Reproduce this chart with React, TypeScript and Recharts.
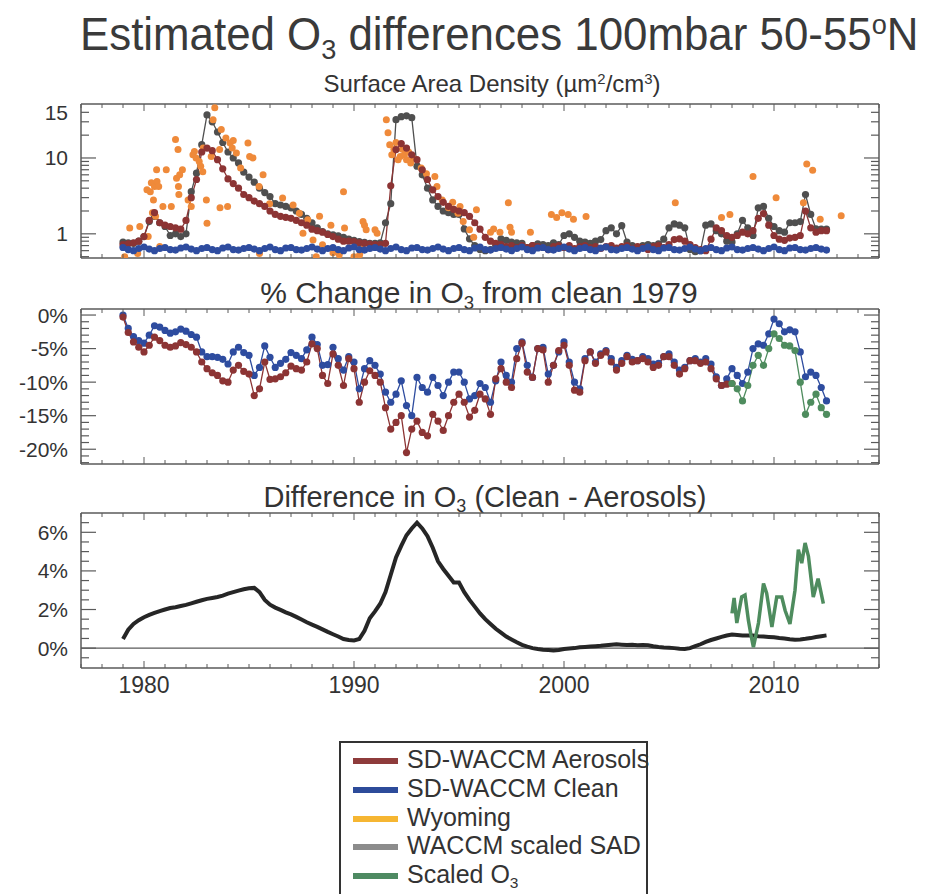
import React from 'react'
import { ComposedChart, Line, Scatter, XAxis, YAxis, ReferenceLine } from 'recharts'

const AXIS = '#5a5a5a'
const TEXT = '#333'
const FONT = '"Liberation Sans", Arial, Helvetica, sans-serif'

const RED = '#8c3434'
const BLUE = '#2e4c9f'
const ORANGE = '#ef8a3a'
const GREY = '#4f4f4f'
const GREEN = '#4e8c5e'
const BLACK = '#262626'

// quarterly model output, first sample at 1979.0
const START_YEAR = 1979
const STEP = 0.25

// Surface area density (um2/cm3)
const sadAerosol = [
  0.72, 0.74, 0.76, 0.8, 0.92, 1.5, 1.9, 1.4, 1.3, 1.25, 1.2, 1.15, 1.5, 3.0, 5.2, 12.0,
  13.5, 12.5, 9.5, 7.2, 5.3, 4.6, 4.0, 3.3, 3.0, 2.7, 2.5, 2.3, 2.0, 1.8, 1.7, 1.65,
  1.6, 1.5, 1.4, 1.3, 1.15, 1.1, 1.05, 0.98, 0.92, 0.85, 0.8, 0.8, 0.79, 0.76, 0.75, 0.73,
  0.72, 0.72, 0.75, 4.3, 12.9, 15.5, 13.5, 11, 9.5, 7.0, 5.2, 3.8, 3.1, 2.6, 2.3, 2.1,
  2.0, 1.9, 1.7, 1.4, 1.15, 0.9, 0.8, 0.75, 0.72, 0.68, 0.7, 0.66, 0.7, 0.66, 0.7, 0.68,
  0.66, 0.62, 0.68, 0.7, 0.66, 0.7, 0.64, 0.68, 0.7, 0.66, 0.68, 0.64, 0.68, 0.7, 0.65, 0.68,
  0.7, 0.64, 0.68, 0.66, 0.62, 0.68, 0.7, 0.66, 0.72, 0.84, 0.86, 0.8, 0.72, 0.66, 0.62, 0.6,
  0.85, 1.2, 1.1, 0.95, 0.9, 0.95, 1.05, 1.0, 1.1, 1.6, 1.85, 1.3, 0.95, 0.85, 0.82, 0.88,
  0.9, 0.95, 2.0, 1.2, 1.05, 1.1, 1.1,
]
const sadClean = [
  0.66, 0.62, 0.6, 0.64, 0.67, 0.63, 0.6, 0.64, 0.66, 0.62, 0.61, 0.65, 0.67, 0.63, 0.6, 0.64,
  0.66, 0.62, 0.6, 0.65, 0.67, 0.62, 0.61, 0.64, 0.66, 0.63, 0.6, 0.64, 0.67, 0.62, 0.6, 0.65,
  0.66, 0.62, 0.61, 0.64, 0.67, 0.63, 0.6, 0.64, 0.66, 0.62, 0.6, 0.65, 0.67, 0.62, 0.61, 0.64,
  0.66, 0.63, 0.6, 0.64, 0.67, 0.62, 0.6, 0.65, 0.66, 0.62, 0.61, 0.64, 0.67, 0.63, 0.6, 0.64,
  0.66, 0.62, 0.6, 0.65, 0.67, 0.62, 0.61, 0.64, 0.66, 0.63, 0.6, 0.64, 0.67, 0.62, 0.6, 0.65,
  0.66, 0.62, 0.61, 0.64, 0.67, 0.63, 0.6, 0.64, 0.66, 0.62, 0.6, 0.65, 0.67, 0.62, 0.61, 0.64,
  0.66, 0.63, 0.6, 0.64, 0.67, 0.62, 0.6, 0.65, 0.66, 0.62, 0.61, 0.64, 0.67, 0.63, 0.6, 0.64,
  0.66, 0.62, 0.6, 0.65, 0.67, 0.62, 0.61, 0.64, 0.66, 0.63, 0.6, 0.64, 0.67, 0.62, 0.6, 0.65,
  0.66, 0.62, 0.61, 0.64, 0.66, 0.63, 0.61,
]
const sadScaled = [
  0.78, 0.76, 0.75, 0.8, 0.92, 1.45, 1.7, 1.4, 1.25, 0.95, 1.0, 0.92, 1.0, 3.6, 6.3, 15,
  37, 30, 22, 16, 12, 10, 8.6, 6.5, 5.6, 4.8, 4.0, 3.5, 3.1, 2.5, 2.4, 2.3,
  2.2, 2.0, 1.8, 1.6, 1.4, 1.2, 1.07, 1.0, 0.97, 0.94, 0.9, 0.85, 0.82, 0.79, 0.77, 0.75,
  0.75, 0.76, 1.4, 2.5, 32, 35, 36, 34, 7.8, 6.0, 4.0, 2.8, 2.3, 2.0, 1.9, 1.8,
  1.8, 1.16, 0.86, 0.7, 0.62, 0.6, 0.62, 0.7, 0.86, 0.82, 0.78, 0.76, 0.75, 0.66, 0.7, 0.74,
  0.72, 0.7, 0.76, 0.72, 0.95, 1.0, 0.9, 0.8, 0.78, 0.75, 0.8, 0.84, 1.1, 1.2, 1.0, 1.28,
  0.78, 0.7, 0.66, 0.7, 0.72, 0.7, 0.74, 0.85, 1.2, 1.35, 1.3, 1.2, 0.62, 0.58, 0.6, 1.3,
  1.35, 1.1, 1.0, 0.8, 0.78, 1.0, 1.5, 1.2, 0.95, 2.2, 2.3, 1.6, 1.25, 1.1, 1.05, 1.4,
  1.4, 1.45, 3.3, 1.8, 1.16, 1.15, 1.15,
]

// Wyoming balloon soundings (irregular dates)
const wyomingYears = [
  1979.08, 1979.32, 1979.7, 1979.8, 1980.14, 1980.2, 1980.3, 1980.35, 1980.4, 1980.45, 1980.5, 1980.55,
  1980.6, 1980.62, 1980.7, 1980.75, 1980.9, 1981.06, 1981.3, 1981.5, 1981.55, 1981.62, 1981.64, 1981.66,
  1981.7, 1981.83, 1982.1, 1982.25, 1982.33, 1982.4, 1982.48, 1982.63, 1982.7, 1982.8, 1982.82, 1982.97,
  1983.0, 1983.2, 1983.29, 1983.37, 1983.6, 1983.62, 1983.68, 1983.9, 1983.98, 1984.1, 1984.2, 1984.25,
  1984.4, 1984.6, 1984.95, 1985.03, 1985.19, 1985.48, 1985.5, 1985.67, 1985.98, 1986.6, 1987.1, 1987.4,
  1987.57, 1987.8, 1988.05, 1988.2, 1988.36, 1988.5, 1988.9, 1989.0, 1989.3, 1989.5, 1989.55, 1990.0,
  1990.27, 1990.3, 1990.43, 1990.5, 1990.58, 1991.0, 1991.1, 1991.54, 1991.62, 1991.7, 1991.8, 1991.9,
  1992.0, 1992.1, 1992.2, 1992.3, 1992.4, 1992.5, 1992.6, 1992.7, 1992.8, 1993.2, 1993.45, 1993.85,
  1993.95, 1994.2, 1994.5, 1994.7, 1994.95, 1995.05, 1995.2, 1995.5, 1995.7, 1995.83, 1996.5, 1996.65,
  1996.95, 1997.35, 1997.43, 1997.5, 1998.4, 1999.4, 1999.5, 1999.65, 1999.9, 2000.2, 2000.45, 2001.05,
  2005.3, 2007.5, 2007.9, 2009.0, 2010.1, 2011.4, 2011.56, 2011.84, 2012.2, 2013.2,
]
const wyomingSad = [
  0.5, 1.19, 0.55, 1.25, 3.8, 0.92, 3.6, 4.7, 1.9, 2.8, 4.2, 1.7,
  7.0, 4.9, 4.2, 0.68, 2.3, 7.0, 2.3, 17.5, 5.4, 12.9, 4.2, 3.3,
  6.0, 7.0, 2.8, 2.3, 11, 12.2, 10, 9, 7.8, 6.6, 13.5, 2.8,
  1.38, 10.5, 32, 46, 12.9, 2.2, 23.7, 18.4, 2.3, 15.8, 13.5, 17,
  11.6, 7.4, 15.8, 10.5, 10, 4.2, 0.55, 6.0, 2.5, 2.96, 2.4, 1.87,
  1.02, 1.53, 0.83, 0.5, 1.7, 0.72, 1.3, 0.56, 0.53, 3.6, 1.19, 0.5,
  0.53, 0.68, 1.45, 1.3, 1.13, 1.13, 1.02, 32, 21.5, 15, 11, 13,
  16, 9.5, 10.5, 13, 11, 9.5, 12, 8.6, 10, 7.4, 6.2, 5.7,
  4.2, 2.8, 2.2, 2.6, 1.87, 2.3, 1.45, 1.13, 0.9, 2.07, 1.05, 1.16,
  1.05, 2.57, 1.22, 1.05, 1.05, 1.8, 0.64, 1.64, 1.9, 1.8, 1.56, 1.69,
  2.57, 1.64, 1.8, 5.7, 2.98, 2.57, 8.3, 6.9, 1.56, 1.73,
]

// % change in O3 from clean 1979
const pctClean = [
  0, -2.0, -3.2, -3.8, -4.2, -3.0, -1.6, -1.8, -2.3, -2.7, -2.5, -2.1, -2.4, -2.9, -3.3, -5.5,
  -6.2, -6.2, -6.3, -6.6, -7.3, -5.5, -4.8, -5.6, -6.0, -9.0, -7.8, -4.6, -6.3, -7.8, -7.2, -6.6,
  -5.6, -6.0, -6.5, -5.2, -3.3, -4.4, -7.5, -7.4, -4.8, -6.5, -8.2, -6.2, -7.0, -11.0, -8.0, -6.8,
  -7.5, -8.8, -11.5, -13.0, -11.8, -9.8, -13.5, -15.0, -9.3, -10.8, -11.5, -9.3, -10.5, -12.0, -10.0, -8.5,
  -8.5, -10.0, -12.5, -12.0, -10.2, -10.8, -13.0, -9.8, -7.0, -9.0, -10.0, -5.0, -4.0, -7.5, -9.3, -5.0,
  -4.8, -8.8, -7.5, -5.5, -4.0, -7.0, -10.0, -11.0, -6.5, -5.5, -7.0, -5.8, -5.3, -6.5, -7.8, -6.8,
  -6.0, -6.6, -6.8, -6.2, -6.5, -7.3, -7.2, -6.2, -5.8, -7.0, -8.2, -7.8, -6.8, -6.5, -7.0, -6.5,
  -7.3, -9.2, -10.5, -9.5, -8.0, -9.0, -10.2, -8.5, -5.0, -4.3, -4.5, -2.8, -0.6, -1.3, -2.5, -2.2,
  -2.5, -5.5, -9.2, -8.5, -9.0, -10.8, -12.8,
]
const pctAerosol = [
  -0.3, -2.6, -4.0, -4.8, -5.5, -4.5, -3.3, -3.8, -4.5, -4.8, -4.6, -4.1, -4.4, -4.8, -5.5, -7.0,
  -8.0, -8.6, -9.0, -9.8, -10.0, -8.2, -7.5, -8.4, -8.8, -12.0, -11.0, -7.0, -9.6, -9.5, -9.2, -8.6,
  -7.6, -8.0, -8.2, -7.0, -4.3, -5.0, -9.0, -10.2, -5.8, -7.5, -10.5, -6.5, -8.0, -13.0, -10.0, -8.3,
  -9.0, -10.0, -13.8, -17.0, -16.0, -15.0, -20.5, -17.0, -15.8, -17.5, -18.0, -14.8, -15.8, -17.2, -15.0, -13.0,
  -11.8, -13.0, -15.2, -14.2, -11.8, -12.5, -14.8, -9.5, -8.0, -10.0, -10.8, -6.5, -4.2, -8.5, -9.3, -5.0,
  -5.2, -10.0, -7.5, -5.3, -4.5, -7.5, -11.2, -11.5, -6.8, -5.5, -7.2, -6.0, -5.5, -7.0, -8.2, -7.2,
  -6.2, -7.0, -6.8, -6.5, -7.0, -7.8, -7.5, -6.2, -6.2, -7.5, -8.8, -8.0, -6.8, -6.8, -7.2, -7.0,
  -8.0, -9.5, -10.5, -10.3, -10.2,
]
const SCALED_START = 2008
const pctScaled = [
  -10.2, -11.0, -12.8, -10.5, -7.5, -6.0, -7.5, -5.0, -2.8, -3.5, -4.5, -4.6, -5.3, -10.0, -14.8, -13.0,
  -11.8, -13.8, -14.8,
]

// Difference in O3 (Clean - Aerosols), %
const diffModel = [
  0.47, 0.95, 1.25, 1.45, 1.6, 1.72, 1.82, 1.92, 2.0, 2.08, 2.12, 2.18, 2.24, 2.32, 2.4, 2.48,
  2.55, 2.6, 2.65, 2.72, 2.82, 2.9, 2.98, 3.05, 3.1, 3.12, 2.9, 2.5, 2.25, 2.1, 1.98, 1.85,
  1.75, 1.62, 1.48, 1.34, 1.22, 1.1, 0.97, 0.84, 0.72, 0.6, 0.47, 0.42, 0.4, 0.47, 0.9, 1.55,
  1.9, 2.3, 2.9, 3.8, 4.7, 5.3, 5.85, 6.2, 6.5, 6.2, 5.8, 5.2, 4.5, 4.1, 3.75, 3.4,
  3.4, 2.9, 2.5, 2.15, 1.8, 1.5, 1.25, 1.0, 0.8, 0.6, 0.45, 0.3, 0.17, 0.08, 0.0, -0.05,
  -0.08, -0.1, -0.12, -0.1, -0.05, -0.02, 0.0, 0.04, 0.06, 0.08, 0.1, 0.12, 0.15, 0.18, 0.2, 0.18,
  0.16, 0.18, 0.15, 0.16, 0.15, 0.1, 0.06, 0.03, 0.02, 0.0, -0.03, -0.05, 0.0, 0.1, 0.2, 0.32,
  0.42, 0.5, 0.58, 0.65, 0.7, 0.68, 0.66, 0.65, 0.65, 0.62, 0.6, 0.58, 0.56, 0.52, 0.5, 0.46,
  0.44, 0.45, 0.48, 0.52, 0.58, 0.62, 0.66,
]
const diffScaledYears = [
  2008.0, 2008.1, 2008.23, 2008.46, 2008.62, 2008.78, 2008.9, 2009.02, 2009.26, 2009.5, 2009.65, 2009.9,
  2010.13, 2010.37, 2010.53, 2010.76, 2011.0, 2011.16, 2011.32, 2011.48, 2011.64, 2011.87, 2012.1, 2012.35,
]
const diffScaled = [
  1.8, 2.6, 1.3, 2.65, 2.75, 1.45, 0.7, 0.05, 1.3, 3.35, 2.85, 1.1,
  2.65, 2.65, 1.95, 1.25, 3.0, 5.1, 4.4, 5.45, 4.75, 2.65, 3.6, 2.3,
]

const legendItems = [
  { name: 'SD-WACCM Aerosols', color: '#8e3b3b' },
  { name: 'SD-WACCM Clean', color: '#2d4b9a' },
  { name: 'Wyoming', color: '#f6b632' },
  { name: 'WACCM scaled SAD', color: '#8c8c8c' },
  { name: 'Scaled O3', color: '#4e8a62' },
]

const decadeLabels = [1980, 1990, 2000, 2010]
const X_DOMAIN: [number, number] = [1977, 2015]
const yearTicks: number[] = []
for (let y = 1977; y <= 2015; y++) yearTicks.push(y)

const sadTicks = [0.5, 0.6, 0.7, 0.8, 0.9, 1, 2, 3, 4, 5, 6, 7, 8, 9, 10, 20, 30, 40]
const sadLabels: Record<string, string> = { '1': '1', '10': '10', '40': '15' }
const pctTicks: number[] = []
for (let v = -22; v <= 0; v++) pctTicks.push(v)
const pctLabels: Record<string, string> = { '0': '0%', '-5': '-5%', '-10': '-10%', '-15': '-15%', '-20': '-20%' }
const diffTicks = [-0.5, 0, 0.5, 1, 1.5, 2, 2.5, 3, 3.5, 4, 4.5, 5, 5.5, 6, 6.5]
const diffLabels: Record<string, string> = { '0': '0%', '2': '2%', '4': '4%', '6': '6%' }

const quarterly = (vals: number[], start = START_YEAR) => vals.map((v, i) => ({ t: start + i * STEP, v }))
const paired = (ts: number[], vs: number[]) => ts.map((t, i) => ({ t, v: vs[i] }))

const xTick = (side: 'top' | 'bottom', showLabels: boolean) => (p: any) => {
  const v = p.payload.value
  const len = v % 10 === 0 ? 7 : 4
  const dir = side === 'bottom' ? -1 : 1
  return (
    <g>
      <line x1={p.x} y1={p.y} x2={p.x} y2={p.y + dir * len} stroke={AXIS} strokeWidth={1} />
      {showLabels && decadeLabels.includes(v) && (
        <text x={p.x} y={p.y + 17} textAnchor="middle" dominantBaseline="central" fontSize={23} fill={TEXT} fontFamily={FONT}>
          {v}
        </text>
      )}
    </g>
  )
}

const yTick = (side: 'left' | 'right', majors: number[], labels: Record<string, string>) => (p: any) => {
  const v = p.payload.value
  const len = majors.includes(v) ? 15 : 8
  const dir = side === 'left' ? 1 : -1
  const lab = side === 'left' ? labels[String(v)] : undefined
  return (
    <g>
      <line x1={p.x} y1={p.y} x2={p.x + dir * len} y2={p.y} stroke={AXIS} strokeWidth={1.2} />
      {lab && (
        <text x={p.x - 13} y={p.y} textAnchor="end" dominantBaseline="central" fontSize={21} fill={TEXT} fontFamily={FONT}>
          {lab}
        </text>
      )}
    </g>
  )
}

const axisLine = { stroke: AXIS, strokeWidth: 1.5 }

// four framing axes, ticks pointing inward like the original plot
function frame(yDomain: [number, number], yTicks: number[], majors: number[], labels: Record<string, string>, log: boolean, bottomLabels: boolean) {
  const scale = log ? 'log' : 'linear'
  return [
    <XAxis key="xb" type="number" dataKey="t" domain={X_DOMAIN} ticks={yearTicks} interval={0} allowDataOverflow
      height={bottomLabels ? 45 : 10} tickSize={0} tickMargin={0} tickLine={false} axisLine={axisLine} tick={xTick('bottom', bottomLabels)} />,
    <XAxis key="xt" xAxisId="top" orientation="top" type="number" dataKey="t" domain={X_DOMAIN} ticks={yearTicks} interval={0} allowDataOverflow
      height={10} tickSize={0} tickMargin={0} tickLine={false} axisLine={axisLine} tick={xTick('top', false)} />,
    <YAxis key="yl" type="number" scale={scale} domain={yDomain} ticks={yTicks} interval={0} allowDataOverflow
      width={81} tickSize={0} tickMargin={0} tickLine={false} axisLine={axisLine} tick={yTick('left', majors, labels)} />,
    <YAxis key="yr" yAxisId="right" orientation="right" type="number" scale={scale} domain={yDomain} ticks={yTicks} interval={0} allowDataOverflow
      width={47} tickSize={0} tickMargin={0} tickLine={false} axisLine={axisLine} tick={yTick('right', majors, {})} />,
  ]
}

const dotted = (color: string) => ({ r: 3.6, fill: color, stroke: color, strokeWidth: 0 })

const Title = ({ top, center, size, children }: { top: number; center: number; size: number; children: React.ReactNode }) => (
  <div style={{ position: 'absolute', top, left: center - 400, width: 800, textAlign: 'center', fontSize: size, lineHeight: 1, color: TEXT, whiteSpace: 'nowrap' }}>
    {children}
  </div>
)
const Sub = ({ children }: { children: React.ReactNode }) => (
  <span style={{ fontSize: '0.62em', position: 'relative', top: '0.3em', lineHeight: 0 }}>{children}</span>
)
const Sup = ({ children }: { children: React.ReactNode }) => (
  <span style={{ fontSize: '0.62em', position: 'relative', top: '-0.55em', lineHeight: 0 }}>{children}</span>
)

export default function App() {
  const margin = { top: 0, right: 0, bottom: 0, left: 0 }
  const wyoming = paired(wyomingYears, wyomingSad)

  return (
    <div style={{ position: 'absolute', left: 0, top: 0, width: 926, height: 894, background: '#fff', overflow: 'hidden', fontFamily: FONT }}>
      <div style={{ position: 'absolute', top: 11, left: 80, fontSize: 46, lineHeight: 1, color: '#3a3a3a', whiteSpace: 'nowrap',
        transform: 'scaleX(0.953)', transformOrigin: 'left top' }}>
        Estimated O<Sub>3</Sub> differences 100mbar 50-55<Sup>o</Sup>N
      </div>
      <Title top={72} center={492} size={24}>Surface Area Density (µm<Sup>2</Sup>/cm<Sup>3</Sup>)</Title>
      <Title top={278} center={479} size={30}>% Change in O<Sub>3</Sub> from clean 1979</Title>
      <Title top={483} center={485} size={29}>Difference in O<Sub>3</Sub> (Clean - Aerosols)</Title>

      <div style={{ position: 'absolute', left: 0, top: 94 }}>
        <ComposedChart width={926} height={174} margin={margin}>
          {frame([0.48, 51.5], sadTicks, [1, 10], sadLabels, true, false)}
          <Line data={quarterly(sadScaled)} dataKey="v" stroke={GREY} strokeWidth={1.3} dot={dotted(GREY)} isAnimationActive={false} />
          <Scatter data={wyoming} dataKey="v" fill={ORANGE} isAnimationActive={false}
            shape={(p: any) => <circle cx={p.cx} cy={p.cy} r={3.5} fill={ORANGE} />} />
          <Line data={quarterly(sadAerosol)} dataKey="v" stroke={RED} strokeWidth={1.3} dot={dotted(RED)} isAnimationActive={false} />
          <Line data={quarterly(sadClean)} dataKey="v" stroke={BLUE} strokeWidth={1.3} dot={dotted(BLUE)} isAnimationActive={false} />
        </ComposedChart>
      </div>

      <div style={{ position: 'absolute', left: 0, top: 299 }}>
        <ComposedChart width={926} height={175} margin={margin}>
          {frame([-22.2, 0.9], pctTicks, [0, -5, -10, -15, -20], pctLabels, false, false)}
          <Line data={quarterly(pctClean)} dataKey="v" stroke={BLUE} strokeWidth={1.3} dot={dotted(BLUE)} isAnimationActive={false} />
          <Line data={quarterly(pctAerosol)} dataKey="v" stroke={RED} strokeWidth={1.3} dot={dotted(RED)} isAnimationActive={false} />
          <Line data={quarterly(pctScaled, SCALED_START)} dataKey="v" stroke={GREEN} strokeWidth={1.3} dot={dotted(GREEN)} isAnimationActive={false} />
        </ComposedChart>
      </div>

      <div style={{ position: 'absolute', left: 0, top: 503 }}>
        <ComposedChart width={926} height={210} margin={margin}>
          {frame([-1.03, 7.0], diffTicks, [0, 2, 4, 6], diffLabels, false, true)}
          <ReferenceLine y={0} stroke={AXIS} strokeWidth={1.2} />
          <Line data={quarterly(diffModel)} dataKey="v" stroke={BLACK} strokeWidth={4} dot={false} isAnimationActive={false} />
          <Line data={paired(diffScaledYears, diffScaled)} dataKey="v" stroke={GREEN} strokeWidth={3.5} dot={false} isAnimationActive={false} />
        </ComposedChart>
      </div>

      <div style={{ position: 'absolute', left: 339, top: 741, width: 309, height: 200, border: '2px solid #333', boxSizing: 'border-box' }}>
        {legendItems.map((item, i) => (
          <div key={item.name} style={{ position: 'absolute', left: 0, top: 2 + i * 28.75, height: 28, width: 320, whiteSpace: 'nowrap' }}>
            <div style={{ position: 'absolute', left: 12, top: 13, width: 45, height: 6, background: item.color }} />
            <div style={{ position: 'absolute', left: 66, top: 0, fontSize: 25, lineHeight: '28px', color: TEXT }}>
              {item.name === 'Scaled O3' ? <>Scaled O<Sub>3</Sub></> : item.name}
            </div>
          </div>
        ))}
      </div>
    </div>
  )
}
